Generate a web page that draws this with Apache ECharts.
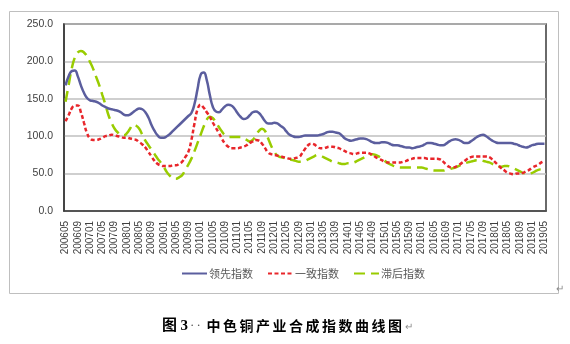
<!DOCTYPE html>
<html>
<head>
<meta charset="utf-8">
<script src="https://cdn.jsdelivr.net/npm/echarts@6/dist/echarts.min.js"></script>
<style>
html,body{margin:0;padding:0;background:#fff;}
#chart{width:570px;height:344px;}
</style>
</head>
<body>
<div id="chart"></div>
<script>
// Categories: monthly from 200605 to 201905
var startYear = 2006, startMonth = 5, endYear = 2019, endMonth = 5;
var categories = [];
for (var y = startYear; y <= endYear; y++) {
  for (var m = 1; m <= 12; m++) {
    if (y === startYear && m < startMonth) continue;
    if (y === endYear && m > endMonth) break;
    categories.push(String(y) + (m < 10 ? '0' + m : String(m)));
  }
}

var seriesNames = ['领先指数', '一致指数', '滞后指数'];

var leading = [
168,180,187,188,180,168,158,151,148,147,
146,144,141,139,137,136,135,134,132,129,
128,129,132,135,137,136,132,125,115,107,
101,98,98,100,103,107,111,115,119,123,
127,131,143,163,182,185,175,155,139,133,
132,136,140,142,141,137,131,126,123,124,
128,132,133,131,126,120,117,117,118,117,
114,111,106,102,100,99,99,100,101,101,
101,101,101,102,103,105,106,106,105,104,
101,97,95,94,95,96,97,97,96,94,
92,91,91,92,92,91,89,88,88,87,
86,85,85,84,85,86,87,89,91,91,
90,89,88,88,90,93,95,96,95,93,
91,91,93,96,99,101,102,100,97,94,
92,91,91,91,91,91,90,89,87,86,
85,86,88,89,90,90,90
];

var coincident = [
120,128,137,141,141,132,118,104,97,95,
95,96,98,100,101,102,101,100,99,98,
98,97,96,95,92,89,85,79,73,67,
63,61,60,60,60,61,61,63,66,72,
79,95,117,136,142,138,132,126,118,111,
104,96,90,86,84,84,84,85,86,88,
91,93,95,94,90,84,78,76,75,74,
73,72,71,70,70,71,72,77,83,88,
90,89,86,84,84,85,86,86,85,84,
82,80,78,77,76,77,78,78,78,77,
75,72,70,68,66,65,65,65,65,65,
66,67,69,70,71,71,71,71,70,70,
70,70,69,66,62,59,58,59,61,64,
67,70,72,73,73,73,73,73,72,69,
65,61,57,54,51,50,49,50,50,51,
53,55,58,60,62,65,67
];

var lagging = [
146,168,190,205,212,214,212,207,199,190,
179,168,155,142,128,118,110,105,102,101,
104,110,115,114,110,102,94,88,82,76,
70,65,59,52,47,44,43,45,48,55,
62,70,80,91,102,113,122,126,124,118,
112,106,101,99,99,99,99,99,97,95,
93,95,101,107,110,107,97,87,79,74,
72,71,70,69,68,67,66,66,67,69,
71,73,75,74,72,70,68,66,65,64,
63,63,64,64,65,67,69,71,73,75,
76,75,73,70,67,64,62,60,59,58,
58,58,58,58,58,58,58,57,56,55,
54,54,54,54,55,56,57,58,60,62,
64,65,66,67,68,68,67,66,65,63,
61,59,59,60,60,59,57,55,53,51,
50,50,51,53,55,56,57
];

var yTicks = [0, 50, 100, 150, 200, 250];
var captionLead = ['图', '3', '·', '·'];
var captionBody = '中色铜产业合成指数曲线图';

var chart = echarts.init(document.getElementById('chart'), null, {renderer: 'canvas'});

var graphics = [
  {type: 'rect', shape: {x: 9.5, y: 11.5, width: 549, height: 282}, style: {fill: 'none', stroke: '#BFBFBF', lineWidth: 1}, z: -1},
  {type: 'text', x: 556, y: 283, style: {text: '↵', fill: '#8C8C8C', font: '10px "Noto Sans CJK SC"'}}
];
var leadX = [162, 180.5, 190, 196.5];
for (var i = 0; i < captionLead.length; i++) {
  var isDot = captionLead[i] === '·';
  graphics.push({
    type: 'text', x: leadX[i], y: 319,
    style: {
      text: captionLead[i],
      fill: isDot ? '#555' : '#000',
      font: (isDot ? 'normal 13px ' : 'bold 15px ') + '"Liberation Serif","Noto Sans CJK SC"'
    }
  });
}
for (var k = 0; k < captionBody.length; k++) {
  graphics.push({
    type: 'text', x: 206.5 + k * 16.5, y: 319,
    style: {text: captionBody[k], fill: '#000', font: 'bold 14px "Noto Sans CJK SC"'}
  });
}
graphics.push({type: 'text', x: 405, y: 321, style: {text: '↵', fill: '#8C8C8C', font: '10px "Noto Sans CJK SC"'}});

var option = {
  animation: false,
  backgroundColor: '#fff',
  grid: {
    left: 64, right: 24, top: 24, bottom: 133,
    show: true, borderColor: '#3A3A3A', borderWidth: 1.5, backgroundColor: 'transparent'
  },
  legend: {
    left: 181, top: 268,
    padding: 0,
    itemWidth: 25, itemHeight: 10, itemGap: 14,
    itemStyle: {opacity: 0},
    textStyle: {fontSize: 11, color: '#595959', fontFamily: '"Noto Sans CJK SC"', padding: [0, 0, 0, -3]},
    data: seriesNames
  },
  xAxis: {
    type: 'category',
    data: categories,
    boundaryGap: true,
    axisLine: {lineStyle: {color: '#3A3A3A', width: 1.5}},
    axisTick: {show: false},
    axisLabel: {
      interval: 3, rotate: 90, fontSize: 10, color: '#404040',
      fontFamily: '"Liberation Sans", Arial, sans-serif', margin: 10
    },
    splitLine: {show: false}
  },
  yAxis: {
    type: 'value',
    min: yTicks[0], max: yTicks[yTicks.length - 1], interval: 50,
    axisLine: {show: true, lineStyle: {color: '#3A3A3A', width: 1.5}},
    axisTick: {show: false},
    axisLabel: {
      fontSize: 10.5, color: '#404040', margin: 11,
      fontFamily: '"Liberation Sans", Arial, sans-serif',
      formatter: function (v) { return v.toFixed(1); }
    },
    splitLine: {lineStyle: {color: '#BFBFBF', width: 1.5}}
  },
  series: [
    {
      name: seriesNames[0], type: 'line', data: leading, smooth: true, symbol: 'none',
      lineStyle: {color: '#5B5E9E', width: 2.5, type: 'solid'},
      itemStyle: {color: '#5B5E9E'}, z: 3
    },
    {
      name: seriesNames[1], type: 'line', data: coincident, smooth: true, symbol: 'none',
      lineStyle: {color: '#E8262B', width: 2.5, type: [4, 2.5]},
      itemStyle: {color: '#E8262B'}, z: 4
    },
    {
      name: seriesNames[2], type: 'line', data: lagging, smooth: true, symbol: 'none',
      lineStyle: {color: '#99CC00', width: 2.5, type: [11, 6]},
      itemStyle: {color: '#99CC00'}, z: 2
    }
  ],
  graphic: graphics
};
chart.setOption(option);
</script>
</body>
</html>
